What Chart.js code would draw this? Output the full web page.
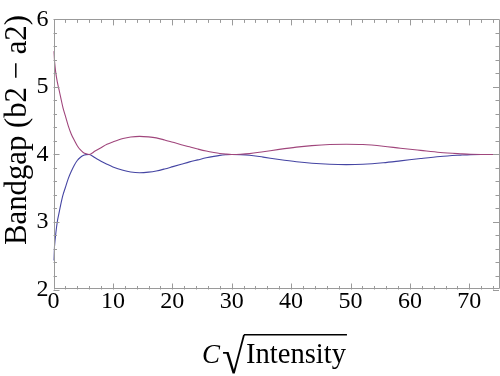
<!DOCTYPE html>
<html><head><meta charset="utf-8">
<script src="https://cdn.jsdelivr.net/npm/chart.js@4"></script>
<style>html,body{margin:0;padding:0;background:#fff}#wrap{width:500px;height:376px;position:relative}</style>
</head><body><div id="wrap"><canvas id="c" width="500" height="376"></canvas></div>
<script>
const xValues = [0, 0.15, 0.4, 0.65, 0.9, 1.2, 1.6, 2, 2.5, 3, 3.5, 4, 4.5, 5, 5.5, 6, 7, 8, 9, 10, 11.7, 13, 14.5, 16, 17.3, 18.7, 20.1, 21.5, 22.9, 24.3, 25.7, 27, 28, 29, 30, 31.5, 33, 35.3, 38, 40.9, 43.5, 46.5, 49.3, 52.1, 55.5, 58.4, 61.8, 65.1, 68.5, 70.2, 72, 75];
const upperBranch = [5.53, 5.40, 5.20, 5.07, 4.97, 4.85, 4.69, 4.57, 4.42, 4.30, 4.21, 4.13, 4.07, 4.03, 4.01, 4.0, 4.05, 4.10, 4.15, 4.185, 4.235, 4.258, 4.268, 4.26, 4.245, 4.215, 4.18, 4.145, 4.113, 4.08, 4.05, 4.028, 4.014, 4.005, 4.0, 4.003, 4.012, 4.04, 4.075, 4.108, 4.13, 4.147, 4.152, 4.147, 4.122, 4.092, 4.06, 4.03, 4.01, 4.002, 4.0, 4.0];
const lowerBranch = [2.43, 2.62, 2.84, 3.01, 3.12, 3.25, 3.40, 3.51, 3.645, 3.75, 3.84, 3.91, 3.955, 3.985, 3.997, 4.0, 3.95, 3.90, 3.855, 3.815, 3.765, 3.74, 3.73, 3.738, 3.755, 3.785, 3.82, 3.855, 3.89, 3.92, 3.95, 3.972, 3.986, 3.995, 4.0, 3.997, 3.988, 3.96, 3.925, 3.892, 3.87, 3.855, 3.85, 3.855, 3.877, 3.905, 3.94, 3.97, 3.99, 3.998, 4.0, 4.0];
const xTickValues = [0, 10, 20, 30, 40, 50, 60, 70];
const yTickValues = [2, 3, 4, 5, 6];
const yTitle = 'Bandgap (b2 \u2212 a2)';
const xTitleParts = ['C', '\u221A', 'Intensity'];

const SERIF = "'Liberation Serif', 'Times New Roman', serif";
const FRAME = '#9a9a9a';

// font size (px) at which str is targetW wide
function fitSize(ctx, str, targetW, style) {
  ctx.font = (style || '') + '100px ' + SERIF;
  return 100 * targetW / ctx.measureText(str).width;
}

const framePlugin = {
  id: 'frameTicks',
  afterDatasetsDraw(chart) {
    const {ctx, chartArea: a, scales: {x, y}} = chart;
    ctx.save();
    ctx.strokeStyle = FRAME;
    ctx.lineWidth = 1;
    ctx.beginPath();
    ctx.rect(Math.round(a.left) + 0.5, Math.round(a.top) + 0.5, Math.round(a.right - a.left) - 1, Math.round(a.bottom - a.top) - 1);
    ctx.stroke();
    ctx.beginPath();
    for (let i = 0; i <= 37; i++) {
      const v = i * 2;
      const px = Math.round(x.getPixelForValue(v)) + 0.5;
      const len = (v % 10 === 0) ? 6 : 3.5;
      ctx.moveTo(px, a.bottom); ctx.lineTo(px, a.bottom - len);
      ctx.moveTo(px, a.top); ctx.lineTo(px, a.top + len);
    }
    for (let i = 0; i <= 20; i++) {
      const v = 2 + i * 0.2;
      const py = Math.round(y.getPixelForValue(v)) + 0.5;
      const len = (i % 5 === 0) ? 6 : 3.5;
      ctx.moveTo(a.left, py); ctx.lineTo(a.left + len, py);
      ctx.moveTo(a.right, py); ctx.lineTo(a.right - len, py);
    }
    ctx.stroke();
    ctx.restore();
  },
  afterDraw(chart) {
    const {ctx} = chart;
    ctx.save();
    ctx.fillStyle = '#000';
    ctx.textBaseline = 'alphabetic';
    ctx.textAlign = 'left';

    // y title, rotated, reading bottom to top
    const ys = fitSize(ctx, yTitle, 230);
    ctx.save();
    ctx.translate(26, 245);
    ctx.rotate(-Math.PI / 2);
    ctx.font = ys + 'px ' + SERIF;
    ctx.fillText(yTitle, 0, 0);
    ctx.restore();

    // x title: C sqrt(Intensity)
    const base = 363;
    const xs = fitSize(ctx, xTitleParts[2], 100);
    ctx.font = 'italic 27px ' + SERIF;
    const mC = ctx.measureText(xTitleParts[0]);
    ctx.fillText(xTitleParts[0], 203 + mC.actualBoundingBoxLeft, base);

    // radical sign glyph fitted into its box
    const rx0 = 223, rx1 = 245, ry0 = 334, ry1 = 374;
    ctx.font = '40px ' + SERIF;
    const mR = ctx.measureText(xTitleParts[1]);
    const gw = mR.actualBoundingBoxLeft + mR.actualBoundingBoxRight;
    const gh = mR.actualBoundingBoxAscent + mR.actualBoundingBoxDescent;
    ctx.save();
    ctx.translate(rx0, ry0);
    ctx.scale((rx1 - rx0) / gw, (ry1 - ry0) / gh);
    ctx.fillText(xTitleParts[1], mR.actualBoundingBoxLeft, mR.actualBoundingBoxAscent);
    ctx.restore();

    ctx.font = xs + 'px ' + SERIF;
    ctx.fillText(xTitleParts[2], 246, base);
    const endX = 246 + ctx.measureText(xTitleParts[2]).width;
    ctx.strokeStyle = '#000';
    ctx.lineWidth = 1.4;
    ctx.beginPath();
    ctx.moveTo(rx1 - 1, ry0 + 0.7); ctx.lineTo(endX + 1, ry0 + 0.7);
    ctx.stroke();
    ctx.restore();
  }
};

const ds = (vals, color) => ({
  data: xValues.map((xv, i) => ({x: xv, y: vals[i]})),
  borderColor: color,
  borderWidth: 1.1,
  pointRadius: 0,
  fill: false,
  cubicInterpolationMode: 'monotone'
});

new Chart(document.getElementById('c'), {
  type: 'line',
  data: { datasets: [ds(upperBranch, '#a0467c'), ds(lowerBranch, '#4545a3')] },
  options: {
    responsive: false,
    animation: false,
    devicePixelRatio: 1,
    layout: { padding: { top: 14, right: 1, left: 0, bottom: 0 } },
    plugins: { legend: { display: false }, tooltip: { enabled: false } },
    scales: {
      x: {
        type: 'linear', min: 0, max: 75,
        afterBuildTicks(s) { s.ticks = xTickValues.map(v => ({value: v})); },
        afterFit(s) { s.height = 86.5; },
        grid: { display: false, drawTicks: false },
        border: { display: false },
        ticks: { font: { family: SERIF, size: 24 }, color: '#000', padding: -2, maxRotation: 0 }
      },
      y: {
        type: 'linear', min: 2, max: 6,
        afterBuildTicks(s) { s.ticks = yTickValues.map(v => ({value: v})); },
        afterFit(s) { s.width = 53.5; },
        grid: { display: false, drawTicks: false },
        border: { display: false },
        ticks: { font: { family: SERIF, size: 24 }, color: '#000', padding: 5 }
      }
    }
  },
  plugins: [framePlugin]
});
</script>
</body></html>
